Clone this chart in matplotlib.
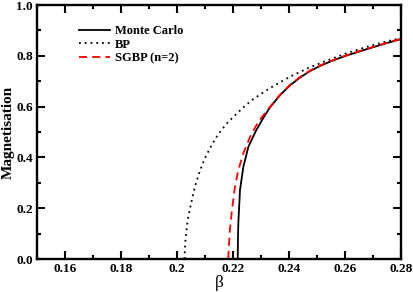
import matplotlib
matplotlib.use("Agg")
import matplotlib.pyplot as plt
from matplotlib.ticker import FixedLocator, MultipleLocator

# Data
mc_beta = [0.2217, 0.22175, 0.2219, 0.2225, 0.2237, 0.2255, 0.2282, 0.2308, 0.2332,
           0.2368, 0.2404, 0.2439, 0.2475, 0.2511, 0.2546, 0.2600, 0.2671, 0.2743, 0.2800]
mc_m = [0.0, 0.07, 0.141, 0.272, 0.363, 0.442, 0.505, 0.555, 0.597,
        0.645, 0.684, 0.714, 0.740, 0.760, 0.777, 0.799, 0.824, 0.848, 0.866]

bp_beta = [0.2027, 0.2029, 0.2035, 0.2040, 0.2053, 0.2064, 0.2082, 0.2100, 0.2124,
           0.2148, 0.2178, 0.2213, 0.2243, 0.2273, 0.2332, 0.2404, 0.2475, 0.2540,
           0.2600, 0.2671, 0.2743, 0.2800]
bp_m = [0.0, 0.06, 0.125, 0.165, 0.232, 0.285, 0.348, 0.398, 0.449,
        0.492, 0.534, 0.572, 0.603, 0.630, 0.673, 0.718, 0.755, 0.783,
        0.808, 0.833, 0.855, 0.870]

sgbp_beta = [0.2183, 0.2186, 0.2189, 0.2195, 0.2201, 0.2207, 0.2219, 0.2237, 0.2261,
             0.2290, 0.2332, 0.2368, 0.2404, 0.2439, 0.2475, 0.2511, 0.2546, 0.2600,
             0.2671, 0.2743, 0.2800]
sgbp_m = [0.0, 0.062, 0.114, 0.180, 0.232, 0.285, 0.350, 0.416, 0.481,
          0.540, 0.599, 0.647, 0.686, 0.716, 0.742, 0.762, 0.778, 0.800,
          0.825, 0.849, 0.867]

x_ticks = [0.16, 0.18, 0.20, 0.22, 0.24, 0.26, 0.28]
x_ticklabels = ["0.16", "0.18", "0.2", "0.22", "0.24", "0.26", "0.28"]
y_ticks = [0.0, 0.2, 0.4, 0.6, 0.8, 1.0]
y_ticklabels = ["0.0", "0.2", "0.4", "0.6", "0.8", "1.0"]

plt.rcParams['font.family'] = ['Liberation Serif', 'DejaVu Serif']

fig = plt.figure(figsize=(4.14, 2.92), dpi=100)
ax = fig.add_axes([37/414, 33/292, 364/414, 254/292])

ax.plot(mc_beta, mc_m, color='black', lw=1.3, ls='-', label='Monte Carlo')
ax.plot(bp_beta, bp_m, color='black', lw=1.3, ls=(0, (1, 2.2)), label='BP')
ax.plot(sgbp_beta, sgbp_m, color='#ff0000', lw=1.3, ls=(0, (4.5, 2.8)), label='SGBP (n=2)')

ax.set_xlim(0.15, 0.28)
ax.set_ylim(0.0, 1.0)
ax.xaxis.set_major_locator(FixedLocator(x_ticks))
ax.set_xticklabels(x_ticklabels, fontweight='bold', fontsize=9.5)
ax.xaxis.set_minor_locator(MultipleLocator(0.01))
ax.yaxis.set_major_locator(FixedLocator(y_ticks))
ax.set_yticklabels(y_ticklabels, fontweight='bold', fontsize=9.5)
ax.yaxis.set_minor_locator(MultipleLocator(0.1))

ax.tick_params(which='both', direction='in', top=True, right=True, width=1.5)
ax.tick_params(which='major', length=5.5, pad=3)
ax.tick_params(which='minor', length=3)
for s in ax.spines.values():
    s.set_linewidth(1.7)

ax.set_xlabel('β', fontsize=12.5, labelpad=0)
ax.set_ylabel('Magnetisation', fontsize=11, fontweight='bold')
ax.yaxis.set_label_coords(-0.06, 0.5)

leg = ax.legend(loc='upper left', bbox_to_anchor=(0.09, 0.955), frameon=False,
                prop={'weight': 'bold', 'size': 9}, handlelength=2.5,
                handletextpad=0.4, labelspacing=0.12, borderpad=0.2)

fig.savefig('out.png', dpi=100)
